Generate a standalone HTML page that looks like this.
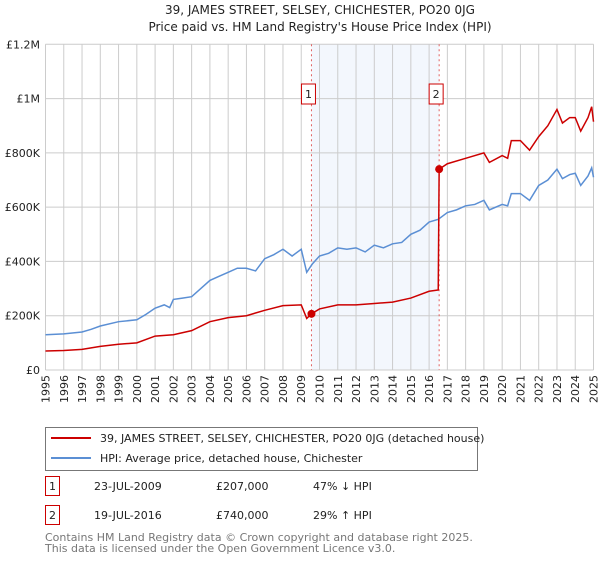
<!DOCTYPE html>
<html><head><meta charset="utf-8"><style>
body{margin:0;background:#fff;font-family:"Liberation Sans","DejaVu Sans",sans-serif;}
svg text{font-family:"DejaVu Sans","Liberation Sans",sans-serif;}
</style></head><body>
<svg id="c" width="600" height="560" xmlns="http://www.w3.org/2000/svg">
<text x="320" y="14" text-anchor="middle" font-size="12" fill="#222">39, JAMES STREET, SELSEY, CHICHESTER, PO20 0JG</text>
<text x="320" y="31" text-anchor="middle" font-size="12" fill="#222">Price paid vs. HM Land Registry's House Price Index (HPI)</text>
<g id="plot"></g>
<rect x="45.5" y="427.5" width="432" height="43" fill="#fff" stroke="#777"/>
<line x1="51" y1="438" x2="91" y2="438" stroke="#cc0000" stroke-width="2"/>
<text x="100" y="442" font-size="11" fill="#222">39, JAMES STREET, SELSEY, CHICHESTER, PO20 0JG (detached house)</text>
<line x1="51" y1="458" x2="91" y2="458" stroke="#5b8fd4" stroke-width="2"/>
<text x="100" y="462" font-size="11" fill="#222">HPI: Average price, detached house, Chichester</text>
<g font-size="11" fill="#222">
<rect x="45.5" y="476.5" width="14" height="19" fill="none" stroke="#cc0000"/>
<text x="52.5" y="490" text-anchor="middle">1</text>
<text x="94" y="490">23-JUL-2009</text>
<text x="216" y="490">£207,000</text>
<text x="313" y="490">47% ↓ HPI</text>
<rect x="45.5" y="505.5" width="14" height="19" fill="none" stroke="#cc0000"/>
<text x="52.5" y="519" text-anchor="middle">2</text>
<text x="94" y="519">19-JUL-2016</text>
<text x="216" y="519">£740,000</text>
<text x="313" y="519">29% ↑ HPI</text>
</g>
<text x="45" y="541" font-size="11" fill="#777">Contains HM Land Registry data © Crown copyright and database right 2025.</text>
<text x="45" y="552" font-size="11" fill="#777">This data is licensed under the Open Government Licence v3.0.</text>
</svg>
<script>
const yearTicks=[1995,1996,1997,1998,1999,2000,2001,2002,2003,2004,2005,2006,2007,2008,2009,2010,2011,2012,2013,2014,2015,2016,2017,2018,2019,2020,2021,2022,2023,2024,2025];
const valueTicks=[0,200000,400000,600000,800000,1000000,1200000];
const valueTickLabels=["£0","£200K","£400K","£600K","£800K","£1M","£1.2M"];
const hpiDates=[1995,1996,1997,1997.5,1998,1999,2000,2000.5,2001,2001.5,2001.8,2002,2002.5,2003,2003.5,2004,2004.5,2005,2005.5,2006,2006.5,2007,2007.5,2008,2008.5,2009,2009.3,2009.6,2010,2010.5,2011,2011.5,2012,2012.5,2013,2013.5,2014,2014.5,2015,2015.5,2016,2016.5,2017,2017.5,2018,2018.5,2019,2019.3,2020,2020.3,2020.5,2021,2021.5,2022,2022.5,2023,2023.3,2023.7,2024,2024.3,2024.7,2024.9,2025];
const hpiValues=[130000,133000,140000,150000,162000,178000,185000,205000,228000,240000,230000,260000,265000,270000,300000,330000,345000,360000,375000,375000,365000,410000,425000,445000,420000,445000,360000,390000,420000,430000,450000,445000,450000,435000,460000,450000,465000,470000,500000,515000,545000,555000,580000,590000,605000,610000,625000,590000,610000,605000,650000,650000,625000,680000,700000,740000,705000,720000,725000,680000,715000,745000,710000];
const priceDates=[1995,1996,1997,1998,1999,2000,2001,2002,2003,2004,2005,2006,2007,2008,2009,2009.3,2009.56,2010,2011,2012,2013,2014,2015,2016,2016.5,2016.55,2017,2018,2019,2019.3,2020,2020.3,2020.5,2021,2021.5,2022,2022.5,2023,2023.3,2023.7,2024,2024.3,2024.7,2024.9,2025];
const priceValues=[70000,72000,76000,87000,95000,100000,125000,130000,145000,178000,193000,200000,220000,237000,240000,190000,207000,225000,240000,240000,245000,250000,265000,290000,295000,740000,760000,780000,800000,765000,790000,780000,845000,845000,810000,860000,900000,960000,910000,930000,930000,880000,930000,970000,915000];
const saleDates=[2009.56,2016.55];
const saleValues=[207000,740000];
const saleLabels=["1","2"];

const X0=45.5,X1=593.5,Y0=370,Y1=44.3;
const x=d=>X0+(d-1995)/(2025-1995)*(X1-X0);
const y=v=>Y0-v/1200000*(Y0-Y1);
const NS="http://www.w3.org/2000/svg";
const g=document.getElementById('plot');
function mk(t,a){const e=document.createElementNS(NS,t);for(const k in a)e.setAttribute(k,a[k]);g.appendChild(e);return e;}
let e=mk('rect',{x:x(saleDates[0]),y:Y1,width:x(saleDates[1])-x(saleDates[0]),height:Y0-Y1,fill:'#eef3fc',opacity:0.7});


yearTicks.forEach((yr,i)=>{
 let l=mk('line',{x1:x(yr),x2:x(yr),y1:Y1,y2:Y0,stroke:'#ccc'});
 
 
 let t=mk('text',{x:0,y:0,'font-size':11,fill:'#222','text-anchor':'end',transform:`translate(${x(yr)+4},${Y0+5}) rotate(-90)`});
 t.textContent=yr;
 
 
});
valueTicks.forEach((v,i)=>{
 let l=mk('line',{x1:X0,x2:X1,y1:y(v),y2:y(v),stroke:'#ccc'});
 
 
 let t=mk('text',{x:40,y:y(v)+4,'font-size':11,fill:'#222','text-anchor':'end'});
 t.textContent=valueTickLabels[i];
 
 
});
saleDates.forEach((d,i)=>{
 let l=mk('line',{x1:x(d),x2:x(d),y1:Y1,y2:Y0,stroke:'#e06060','stroke-dasharray':'2,3'});
 
 
});
let p1=mk('polyline',{points:hpiDates.map((d,i)=>x(d)+','+y(hpiValues[i])).join(' '),fill:'none',stroke:'#5b8fd4','stroke-width':1.5});


let p2=mk('polyline',{points:priceDates.map((d,i)=>x(d)+','+y(priceValues[i])).join(' '),fill:'none',stroke:'#cc0000','stroke-width':1.5});


saleDates.forEach((d,i)=>{
 let c=mk('circle',{cx:x(d),cy:y(saleValues[i]),r:4,fill:'#cc0000'});
 
 
 let r=mk('rect',{x:x(d)-10,y:84,width:14,height:20,fill:'#fff',stroke:'#cc0000'});
 
 
 let t=mk('text',{x:x(d)-3,y:98,'font-size':11,fill:'#222','text-anchor':'middle'});
 t.textContent=saleLabels[i];
 
 
});
</script>
</body></html>
